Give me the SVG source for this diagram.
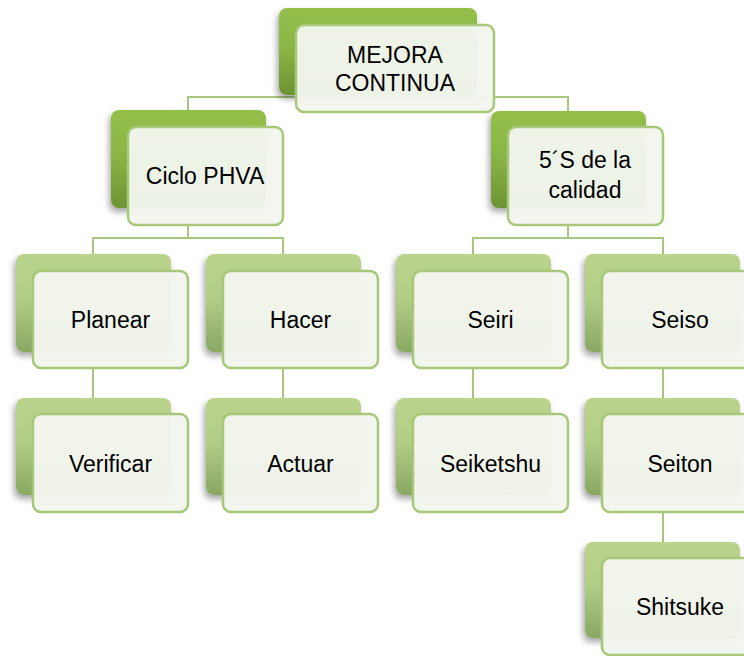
<svg xmlns="http://www.w3.org/2000/svg" width="744" height="656" viewBox="0 0 744 656">
<defs>
<linearGradient id="gDark" x1="0" y1="0" x2="0" y2="1">
<stop offset="0" stop-color="#93bf4a"/>
<stop offset="0.45" stop-color="#8ab645"/>
<stop offset="1" stop-color="#6c9333"/>
</linearGradient>
<linearGradient id="gLight" x1="0" y1="0" x2="0" y2="1">
<stop offset="0" stop-color="#bad48e"/>
<stop offset="0.45" stop-color="#b2cd86"/>
<stop offset="1" stop-color="#8aa763"/>
</linearGradient>
<filter id="sh" x="-20%" y="-20%" width="140%" height="150%">
<feDropShadow dx="-2" dy="4" stdDeviation="3" flood-color="#000" flood-opacity="0.35"/>
</filter>
</defs>
<style>
.conn{fill:none;stroke:#a9c77d;stroke-width:2}
.backD{fill:url(#gDark);filter:url(#sh)}
.backL{fill:url(#gLight);filter:url(#sh)}
.front{fill:#f3f6ee;fill-opacity:0.96;stroke:#a7c779;stroke-width:2.5}
.t{font-family:"Liberation Sans",Arial,sans-serif;font-size:23px;fill:#000;text-anchor:middle}
</style>
<rect width="744" height="656" fill="#ffffff"/>
<g id="connectors">
<path class="conn" d="M395 95 V97 M188 110 V97 H568 V111"/>
<path class="conn" d="M188 225 V238 M93 254 V238 H283 V254"/>
<path class="conn" d="M568 225 V238 M473 254 V238 H663 V254"/>
<path class="conn" d="M93 368 V398 M283 368 V398 M473 368 V398 M663 368 V398 M663 512 V542"/>
</g>
<g id="n-mejora">
<rect class="backD" x="279" y="8" width="198" height="87" rx="8"/>
<rect class="front" x="296" y="25" width="198" height="87" rx="8"/>
<text class="t" x="395" y="63">MEJORA</text>
<text class="t" x="395" y="91">CONTINUA</text>
</g>
<g id="n-ciclo">
<rect class="backD" x="111" y="110" width="155" height="98" rx="8"/>
<rect class="front" x="128" y="127" width="155" height="98" rx="8"/>
<text class="t" x="205" y="184">Ciclo PHVA</text>
</g>
<g id="n-5s">
<rect class="backD" x="491" y="111" width="155" height="97" rx="8"/>
<rect class="front" x="508" y="127" width="155" height="98" rx="8"/>
<text class="t" x="585" y="168">5´S de la</text>
<text class="t" x="585" y="198">calidad</text>
</g>
<g id="n-planear">
<rect class="backL" x="16" y="254" width="155" height="98" rx="8"/>
<rect class="front" x="33" y="271" width="155" height="97" rx="8"/>
<text class="t" x="110.5" y="328">Planear</text>
</g>
<g id="n-hacer">
<rect class="backL" x="206" y="254" width="155" height="98" rx="8"/>
<rect class="front" x="223" y="271" width="155" height="97" rx="8"/>
<text class="t" x="300.5" y="328">Hacer</text>
</g>
<g id="n-seiri">
<rect class="backL" x="396" y="254" width="155" height="98" rx="8"/>
<rect class="front" x="413" y="271" width="155" height="97" rx="8"/>
<text class="t" x="490.5" y="328">Seiri</text>
</g>
<g id="n-seiso">
<rect class="backL" x="585" y="254" width="155" height="98" rx="8"/>
<rect class="front" x="602" y="271" width="155" height="97" rx="8"/>
<text class="t" x="680" y="328">Seiso</text>
</g>
<g id="n-verificar">
<rect class="backL" x="16" y="398" width="155" height="97" rx="8"/>
<rect class="front" x="33" y="414" width="155" height="98" rx="8"/>
<text class="t" x="110.5" y="472">Verificar</text>
</g>
<g id="n-actuar">
<rect class="backL" x="206" y="398" width="155" height="97" rx="8"/>
<rect class="front" x="223" y="414" width="155" height="98" rx="8"/>
<text class="t" x="300.5" y="472">Actuar</text>
</g>
<g id="n-seiketshu">
<rect class="backL" x="396" y="398" width="155" height="97" rx="8"/>
<rect class="front" x="413" y="414" width="155" height="98" rx="8"/>
<text class="t" x="490.5" y="472">Seiketshu</text>
</g>
<g id="n-seiton">
<rect class="backL" x="585" y="398" width="155" height="97" rx="8"/>
<rect class="front" x="602" y="414" width="155" height="98" rx="8"/>
<text class="t" x="680" y="472">Seiton</text>
</g>
<g id="n-shitsuke">
<rect class="backL" x="585" y="542" width="155" height="96" rx="8"/>
<rect class="front" x="602" y="558" width="155" height="97" rx="8"/>
<text class="t" x="680" y="615">Shitsuke</text>
</g>
</svg>
